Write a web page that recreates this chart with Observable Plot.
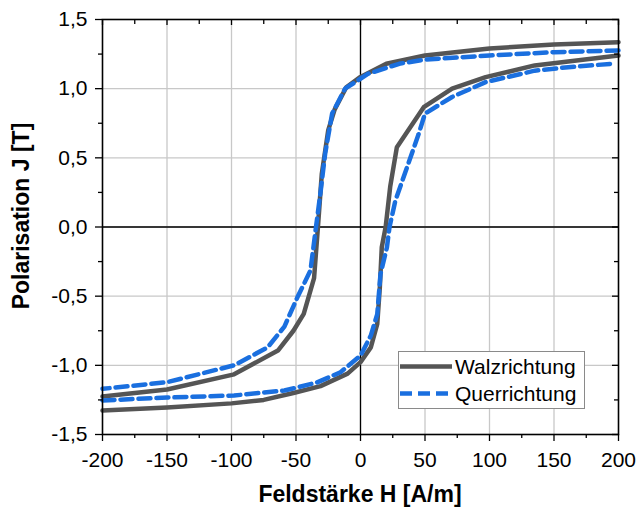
<!DOCTYPE html>
<html><head><meta charset="utf-8">
<script src="https://cdn.jsdelivr.net/npm/d3@7"></script>
<script src="https://cdn.jsdelivr.net/npm/@observablehq/plot@0.6"></script>
<style>
body{margin:0;background:#fff}
#chart svg{font-family:"Liberation Sans",Arial,sans-serif}
</style>
</head><body><div id="chart"></div>
<script>
// Series names
const seriesNames = ["Walzrichtung", "Querrichtung"];

// Walzrichtung – descending branch (H from +200 to -200)
const walzDownH = [200, 150, 100, 50, 20, 0, -11, -20, -25, -30, -33, -36, -44, -52, -64, -98, -150, -200];
const walzDownJ = [1.336, 1.32, 1.29, 1.24, 1.18, 1.085, 1.01, 0.85, 0.70, 0.385, 0, -0.37, -0.628, -0.75, -0.893, -1.065, -1.175, -1.225];
// Walzrichtung – ascending branch (H from -200 to +200)
const walzUpH = [-200, -150, -100, -75, -52, -31, -10, 0, 8, 13, 15, 16.5, 19.5, 23, 28.2, 49, 71, 97, 135, 200];
const walzUpJ = [-1.327, -1.305, -1.275, -1.25, -1.2, -1.15, -1.06, -0.977, -0.87, -0.70, -0.435, -0.146, 0, 0.29, 0.577, 0.866, 1.0, 1.083, 1.168, 1.24];

// Querrichtung – descending branch
const querDownH = [200, 150, 100, 50, 30, 6, -12, -22, -27.4, -31, -34.5, -38.8, -49, -59, -72, -98, -150, -200];
const querDownJ = [1.276, 1.264, 1.24, 1.21, 1.18, 1.108, 1.0, 0.82, 0.53, 0.25, 0, -0.315, -0.51, -0.72, -0.87, -1.0, -1.122, -1.17];
// Querrichtung – ascending branch
const querUpH = [-200, -150, -98, -59, -34, -15.5, 0, 8, 13, 15.5, 20.5, 22.5, 27, 36, 45, 50, 71, 97, 135, 161, 195];
const querUpJ = [-1.254, -1.233, -1.218, -1.182, -1.125, -1.05, -0.93, -0.785, -0.63, -0.34, -0.146, 0, 0.19, 0.43, 0.67, 0.82, 0.94, 1.047, 1.13, 1.155, 1.18];

// Ticks
const xTicks = [-200, -150, -100, -50, 0, 50, 100, 150, 200];
const xMinor = [-175, -125, -75, -25, 25, 75, 125, 175];
const yTicks = [-1.5, -1.0, -0.5, 0, 0.5, 1.0, 1.5];
const yMinor = [-1.25, -0.75, -0.25, 0.25, 0.75, 1.25];

const xTitle = "Feldstärke H [A/m]";
const yTitle = "Polarisation J [T]";

const walzColor = "#555555";
const querColor = "#1a6fdf";
const querDash = "12,6";

function rows(series, branch, H, J) {
  return H.map((h, i) => ({series, branch, H: h, J: J[i]}));
}
const walz = [...rows(seriesNames[0], "down", walzDownH, walzDownJ), ...rows(seriesNames[0], "up", walzUpH, walzUpJ)];
const quer = [...rows(seriesNames[1], "down", querDownH, querDownJ), ...rows(seriesNames[1], "up", querUpH, querUpJ)];

const fmtX = d => String(d);
const fmtY = d => d.toFixed(1).replace(".", ",");

const plot = Plot.plot({
  width: 638,
  height: 510,
  marginLeft: 102,
  marginRight: 20,
  marginTop: 19,
  marginBottom: 76,
  style: {fontFamily: "Liberation Sans, Arial, sans-serif", fontSize: "21px", color: "black", background: "white", overflow: "visible"},
  x: {domain: [-200, 200]},
  y: {domain: [-1.5, 1.5]},
  marks: [
    Plot.gridX(xTicks.slice(1, -1), {stroke: "#c8c8c8", strokeOpacity: 1, strokeWidth: 1.3}),
    Plot.gridY(yTicks.slice(1, -1), {stroke: "#c8c8c8", strokeOpacity: 1, strokeWidth: 1.3}),
    Plot.ruleX([0], {stroke: "black", strokeWidth: 1.3}),
    Plot.ruleY([0], {stroke: "black", strokeWidth: 1.3}),
    Plot.line(walz, {x: "H", y: "J", z: "branch", stroke: walzColor, strokeWidth: 4.5, strokeLinejoin: "round"}),
    Plot.line(quer, {x: "H", y: "J", z: "branch", stroke: querColor, strokeWidth: 4.5, strokeDasharray: querDash}),
    Plot.frame({stroke: "black", strokeWidth: 1.6}),
    // bottom axis
    Plot.axisX(xTicks, {anchor: "bottom", tickSize: 7, tickPadding: 11, tickFormat: fmtX, label: null, fontSize: 21, stroke: "black", fill: "black", strokeWidth: 1.3}),
    Plot.axisX(xMinor, {anchor: "bottom", tickSize: 4, fill: "none", stroke: "black", label: null, strokeWidth: 1.3}),
    // top axis (inward ticks)
    Plot.axisX(xTicks, {anchor: "top", tickSize: 5, dy: 5, fill: "none", stroke: "black", label: null, strokeWidth: 1.3}),
    Plot.axisX(xMinor, {anchor: "top", tickSize: 4, dy: 4, fill: "none", stroke: "black", label: null, strokeWidth: 1.3}),
    // left axis
    Plot.axisY(yTicks, {anchor: "left", tickSize: 7, tickPadding: 8, tickFormat: fmtY, label: null, fontSize: 21, stroke: "black", fill: "black", strokeWidth: 1.3}),
    Plot.axisY(yMinor, {anchor: "left", tickSize: 4, fill: "none", stroke: "black", label: null, strokeWidth: 1.3}),
    // right axis (inward ticks)
    Plot.axisY(yTicks, {anchor: "right", tickSize: 7, dx: -7, fill: "none", stroke: "black", label: null, strokeWidth: 1.3}),
    Plot.axisY(yMinor, {anchor: "right", tickSize: 5, dx: -5, fill: "none", stroke: "black", label: null, strokeWidth: 1.3})
  ]
});

document.getElementById("chart").appendChild(plot);

const svg = d3.select(plot);

// Axis titles
svg.append("text")
  .attr("x", 360).attr("y", 502)
  .attr("text-anchor", "middle")
  .attr("font-family", "Liberation Sans, Arial, sans-serif")
  .attr("font-size", 23).attr("font-weight", "bold").attr("fill", "black")
  .text(xTitle);
svg.append("text")
  .attr("transform", "translate(29,216) rotate(-90)")
  .attr("text-anchor", "middle")
  .attr("font-family", "Liberation Sans, Arial, sans-serif")
  .attr("font-size", 23).attr("font-weight", "bold").attr("fill", "black")
  .text(yTitle);

// Legend (inside the plot, lower right)
const lg = svg.append("g").attr("font-family", "Liberation Sans, Arial, sans-serif").attr("font-size", 21);
lg.append("rect").attr("x", 398.5).attr("y", 351.5).attr("width", 186).attr("height", 57)
  .attr("fill", "white").attr("stroke", "#8a8a8a").attr("stroke-width", 1);
const items = [
  {name: seriesNames[0], color: walzColor, dash: "none", y: 366.5},
  {name: seriesNames[1], color: querColor, dash: querDash, y: 393.5}
];
items.forEach(it => {
  lg.append("path").attr("d", `M400,${it.y}H452`)
    .attr("fill", "none")
    .attr("stroke", it.color).attr("stroke-width", 4.5).attr("stroke-dasharray", it.dash);
  lg.append("text").attr("x", 455).attr("y", it.y).attr("dy", "0.35em")
    .attr("text-anchor", "start").attr("fill", "black").text(it.name);
});
</script>
</body></html>
